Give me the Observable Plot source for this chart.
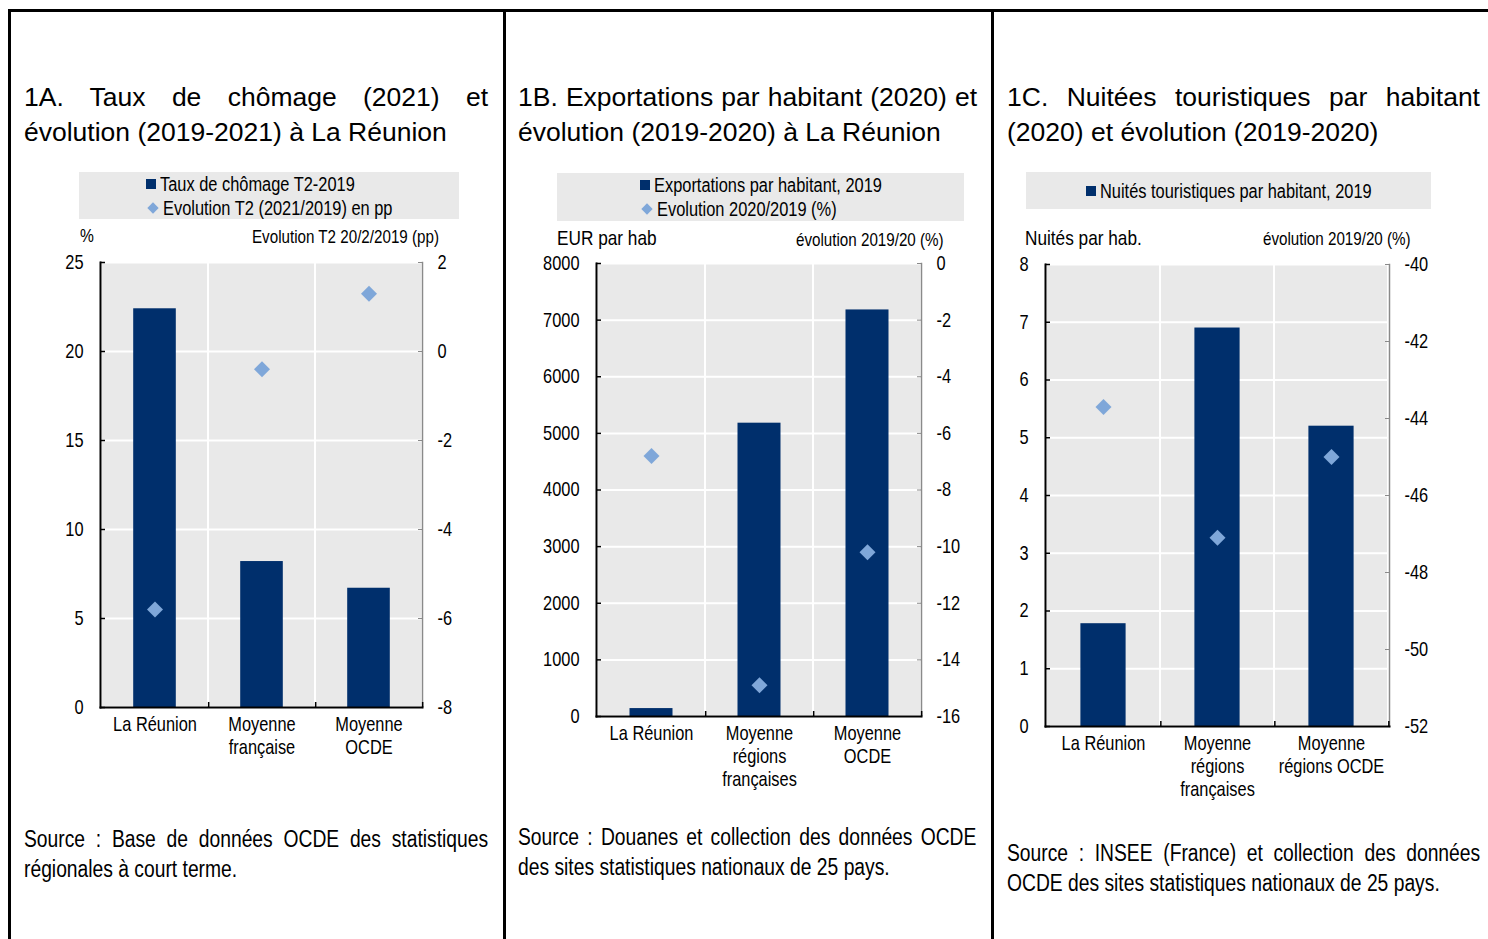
<!DOCTYPE html>
<html><head><meta charset="utf-8">
<script src="https://cdn.jsdelivr.net/npm/d3@7"></script>
<script src="https://cdn.jsdelivr.net/npm/@observablehq/plot@0.6"></script>
<style>
html,body{margin:0;padding:0;background:#fff;}
body{width:1488px;height:939px;position:relative;overflow:hidden;font-family:"Liberation Sans",Arial,sans-serif;color:#000;}
.abs{position:absolute;}
.title{font-size:26.5px;line-height:35px;}
.just{text-align:justify;text-align-last:justify;white-space:nowrap;}
.src{font-size:23.5px;line-height:30px;transform:scaleX(0.82);transform-origin:0 0;}
.src div{white-space:nowrap;}
.legend{background:#e9e9e9;display:flex;flex-direction:column;align-items:center;justify-content:center;font-size:20px;line-height:24px;}
.row{display:flex;align-items:center;white-space:nowrap;}
.sq{display:inline-block;width:10px;height:10px;background:#002f6c;margin-right:4px;}
.dm{display:inline-block;width:8px;height:8px;background:#7fa7d9;transform:rotate(45deg);margin:0 6px 0 3px;}
.nx{display:inline-block;transform:scaleX(0.82);transform-origin:0 50%;white-space:nowrap;}
.lab{white-space:nowrap;}
.line{position:absolute;background:#000;}
</style></head>
<body>
<div class="line" style="left:8px;top:9px;width:1480px;height:3px;"></div>
<div class="line" style="left:8px;top:9px;width:3px;height:930px;"></div>
<div class="line" style="left:503px;top:9px;width:3px;height:930px;"></div>
<div class="line" style="left:991px;top:9px;width:3px;height:930px;"></div>

<!-- Titles -->
<div class="abs title" style="left:24px;top:80px;width:464px;">
  <div class="just">1A. Taux de chômage (2021) et</div>
  <div>évolution (2019-2021) à La Réunion</div>
</div>
<div class="abs title" style="left:518px;top:80px;width:459px;">
  <div class="just">1B. Exportations par habitant (2020) et</div>
  <div>évolution (2019-2020) à La Réunion</div>
</div>
<div class="abs title" style="left:1007px;top:80px;width:473px;">
  <div class="just">1C. Nuitées touristiques par habitant</div>
  <div>(2020) et évolution (2019-2020)</div>
</div>

<!-- Legends -->
<div class="abs legend" style="left:79px;top:172px;width:380px;height:47px;">
  <div><div class="row"><span class="sq"></span><span class="nx">Taux de chômage T2-2019</span></div>
  <div class="row"><span class="dm"></span><span class="nx">Evolution T2 (2021/2019) en pp</span></div></div>
</div>
<div class="abs legend" style="left:557px;top:173px;width:407px;height:48px;">
  <div><div class="row"><span class="sq"></span><span class="nx">Exportations par habitant, 2019</span></div>
  <div class="row"><span class="dm"></span><span class="nx">Evolution 2020/2019 (%)</span></div></div>
</div>
<div class="abs legend" style="left:1026px;top:172px;width:405px;height:37px;">
  <div><div class="row"><span class="sq"></span><span class="nx">Nuités touristiques par habitant, 2019</span></div></div>
</div>

<!-- Axis titles -->
<div class="abs lab" style="left:80px;top:225px;font-size:19px;"><span class="nx">%</span></div>
<div class="abs lab" style="right:1049px;top:226px;font-size:18.5px;"><span class="nx">Evolution T2 20/2/2019 (pp)</span></div>
<div class="abs lab" style="left:557px;top:226px;font-size:21px;"><span class="nx">EUR par hab</span></div>
<div class="abs lab" style="right:544px;top:229px;font-size:18.5px;"><span class="nx">évolution 2019/20 (%)</span></div>
<div class="abs lab" style="left:1025px;top:226px;font-size:21px;"><span class="nx">Nuités par hab.</span></div>
<div class="abs lab" style="right:77px;top:228px;font-size:18.5px;"><span class="nx">évolution 2019/20 (%)</span></div>

<div id="p1" class="abs" style="left:20px;top:250px;"></div>
<div id="p2" class="abs" style="left:510px;top:250px;"></div>
<div id="p3" class="abs" style="left:1000px;top:250px;"></div>

<!-- Sources -->
<div class="abs src" style="left:24px;top:824px;width:566px;">
  <div class="just">Source : Base de données OCDE des statistiques</div>
  <div>régionales à court terme.</div>
</div>
<div class="abs src" style="left:518px;top:822px;width:559px;">
  <div class="just">Source : Douanes et collection des données OCDE</div>
  <div>des sites statistiques nationaux de 25 pays.</div>
</div>
<div class="abs src" style="left:1007px;top:838px;width:577px;">
  <div class="just">Source : INSEE (France) et collection des données</div>
  <div>OCDE des sites statistiques nationaux de 25 pays.</div>
</div>

<script>
// ---- Data ----
const categoriesA = ["La Réunion", "Moyenne\nfrançaise", "Moyenne\nOCDE"];
const chomageT2_2019 = [22.4, 8.2, 6.7];
const evolutionChomage = [-5.8, -0.4, 1.3];
const leftTicksA = [0, 5, 10, 15, 20, 25];
const rightTicksA = [-8, -6, -4, -2, 0, 2];

const categoriesB = ["La Réunion", "Moyenne\nrégions\nfrançaises", "Moyenne\nOCDE"];
const exportations2019 = [140, 5180, 7180];
const evolutionExport = [-6.8, -14.9, -10.2];
const leftTicksB = [0, 1000, 2000, 3000, 4000, 5000, 6000, 7000, 8000];
const rightTicksB = [-16, -14, -12, -10, -8, -6, -4, -2, 0];

const categoriesC = ["La Réunion", "Moyenne\nrégions\nfrançaises", "Moyenne\nrégions OCDE"];
const nuitees2019 = [1.78, 6.9, 5.2];
const evolutionNuitees = [-43.7, -47.1, -45.0];
const leftTicksC = [0, 1, 2, 3, 4, 5, 6, 7, 8];
const rightTicksC = [-52, -50, -48, -46, -44, -42, -40];

const NAVY = "#002f6c", LIGHT = "#7fa7d9", BG = "#e9e9e9", GRAY = "#8a8a8a";
const FONT = '"Liberation Sans",Arial,sans-serif';
const NARROW_SCALE = 0.82;

function panel({cats, bars, pts, leftTicks, rightTicks, width, height, mL, mR, mT, mB}) {
  const yDomain = [leftTicks[0], leftTicks[leftTicks.length - 1]];
  const rDomain = [rightTicks[0], rightTicks[rightTicks.length - 1]];
  const conv = d3.scaleLinear(rDomain, yDomain);
  const plotW = width - mL - mR, plotH = height - mT - mB;
  const bw = plotW / cats.length;
  const tickLen = (yDomain[1] - yDomain[0]) * 5 / plotH;
  const rows = cats.map((c, i) => ({cat: c, v: bars[i], e: pts[i]}));
  const svg = Plot.plot({
    width, height, marginLeft: mL, marginRight: mR, marginTop: mT, marginBottom: mB,
    style: {fontFamily: FONT, fontSize: "20px", color: "#000", background: "transparent", overflow: "visible"},
    x: {domain: cats, padding: 0, axis: null},
    y: {domain: yDomain, axis: null},
    marks: [
      Plot.barY(cats, {x: d => d, y1: yDomain[0], y2: yDomain[1], fill: BG, stroke: "white", strokeWidth: 2}),
      Plot.ruleY(leftTicks, {stroke: "white", strokeWidth: 2}),
      Plot.barY(rows, {x: "cat", y: "v", fill: NAVY, insetLeft: bw * 0.3, insetRight: bw * 0.3}),
      Plot.frame({anchor: "right", stroke: GRAY, strokeWidth: 1.5}),
      Plot.axisY(rightTicks.map(conv), {anchor: "right", label: null, tickSize: -5, tickPadding: 20, stroke: GRAY,
        tickFormat: d => String(Math.round(conv.invert(d)))}),
      Plot.frame({anchor: "left", stroke: "black", strokeWidth: 2}),
      Plot.frame({anchor: "bottom", stroke: "black", strokeWidth: 2}),
      Plot.axisY(leftTicks, {anchor: "left", label: null, tickSize: -5, tickPadding: 22, strokeWidth: 1.5, tickFormat: d => String(d)}),
      Plot.ruleX(cats, {x: d => d, dx: bw / 2, y1: yDomain[0], y2: yDomain[0] + tickLen, stroke: "black", strokeWidth: 1.5}),
      Plot.axisX(cats, {anchor: "bottom", label: null, tickSize: 0, tickPadding: 7, lineHeight: 1.15, tickFormat: d => d}),
      Plot.dot(rows, {x: "cat", y: d => conv(d.e), symbol: "diamond2", r: 7.2, fill: LIGHT, stroke: null})
    ]
  });
  // narrow type: horizontally condense each label around its own anchor
  svg.querySelectorAll("text").forEach(t => {
    const tr = t.getAttribute("transform") || "";
    t.setAttribute("transform", tr + ` scale(${NARROW_SCALE},1)`);
  });
  return svg;
}

document.getElementById("p1").append(panel({
  cats: categoriesA, bars: chomageT2_2019, pts: evolutionChomage,
  leftTicks: leftTicksA, rightTicks: rightTicksA,
  width: 480, height: 530, mL: 80, mR: 78, mT: 12, mB: 73
}));
document.getElementById("p2").append(panel({
  cats: categoriesB, bars: exportations2019, pts: evolutionExport,
  leftTicks: leftTicksB, rightTicks: rightTicksB,
  width: 480, height: 550, mL: 86, mR: 69, mT: 13, mB: 84
}));
document.getElementById("p3").append(panel({
  cats: categoriesC, bars: nuitees2019, pts: evolutionNuitees,
  leftTicks: leftTicksC, rightTicks: rightTicksC,
  width: 480, height: 560, mL: 45, mR: 91, mT: 14, mB: 84
}));

document.querySelectorAll(".nx").forEach(e => {
  e.style.marginRight = (-e.offsetWidth * (1 - NARROW_SCALE)) + "px";
});
</script>
</body></html>
